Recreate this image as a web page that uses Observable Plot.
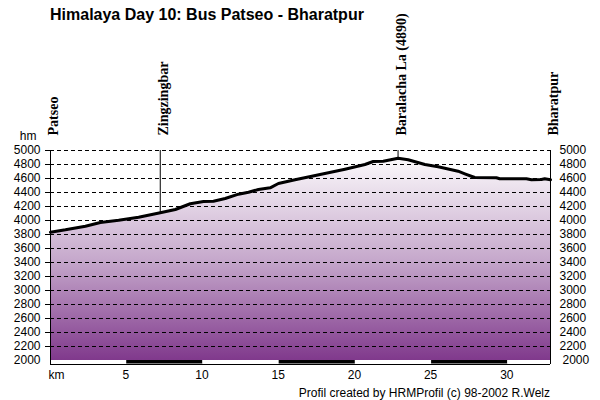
<!DOCTYPE html>
<html>
<head>
<meta charset="utf-8">
<script src="https://cdn.jsdelivr.net/npm/d3@7"></script>
<script src="https://cdn.jsdelivr.net/npm/@observablehq/plot@0.6"></script>
<style>
  html, body { margin: 0; padding: 0; background: #fff; }
  #wrap { position: relative; width: 600px; height: 400px; overflow: hidden; font-family: "Liberation Sans", Arial, sans-serif; }
  #title { position: absolute; left: 50px; top: 6px; font-size: 16px; font-weight: bold; color: #000; white-space: nowrap; }
  #credit { position: absolute; right: 50px; top: 386px; font-size: 12px; color: #000; white-space: nowrap; }
  svg { display: block; }
</style>
</head>
<body>
<div id="wrap">
  <div id="title">Himalaya Day 10: Bus Patseo - Bharatpur</div>
  <div id="credit">Profil created by HRMProfil (c) 98-2002 R.Welz</div>
</div>
<script>
const km = [0,0.98,2.29,3.27,4.47,5.78,7.2,8.19,9.17,10.04,10.69,11.46,12.33,12.99,13.64,14.41,14.95,16.04,17.14,18.23,19.32,20.63,21.17,21.83,22.8,23.46,24.56,25.43,26.74,27.18,27.83,29.25,29.47,31.22,31.55,32.2,32.42,32.8];
const elevation = [3833,3867,3919,3971,4004,4047,4110,4157,4239,4271,4276,4314,4376,4404,4443,4467,4529,4581,4633,4681,4733,4800,4843,4847,4890,4867,4800,4767,4704,4667,4614,4610,4596,4596,4581,4586,4596,4581];
const gridLevels = [5000,4800,4600,4400,4200,4000,3800,3600,3400,3200,3000,2800,2600,2400,2200];
const kmTicks = [5,10,15,20,25,30];
const waypointNames = ["Patseo","Zingzingbar","Baralacha La (4890)","Bharatpur"];
const waypointKm = [0,7.2,22.8,32.8];
const waypointElev = [3833,4110,4890,4581];
const barStart = [0,5,10,15,20,25,30];
const barEnd = [5,10,15,20,25,30,32.8];
const barFill = ["white","black","white","black","white","black","white"];

const profile = km.map((k,i) => ({k, e: elevation[i]}));
const waypoints = waypointNames.map((name,i) => ({name, k: waypointKm[i], e: waypointElev[i]}));
const bars = barStart.map((s,i) => ({s, t: barEnd[i], f: barFill[i]}));
const ns = "http://www.w3.org/2000/svg";

const chart = Plot.plot({
  width: 600, height: 400,
  marginTop: 150, marginBottom: 36, marginLeft: 50, marginRight: 50,
  style: {fontFamily: "Liberation Sans, Arial, sans-serif", fontSize: "12px", background: "white", color: "black"},
  x: {domain: [0, 32.8], axis: null},
  y: {domain: [1943, 5000], axis: null},
  marks: [
    () => {
      const defs = document.createElementNS(ns, "defs");
      defs.innerHTML = `<linearGradient id="elev" x1="0" y1="0" x2="0" y2="1">
        <stop offset="0" stop-color="#fbf9fb"/>
        <stop offset="0.5" stop-color="#c6a9cc"/>
        <stop offset="1" stop-color="#80398c"/></linearGradient>`;
      return defs;
    },
    Plot.areaY(profile, {x: "k", y1: 2000, y2: "e", fill: "url(#elev)"}),
    Plot.ruleY(gridLevels, {stroke: "black", strokeWidth: 1, strokeDasharray: "4,3"}),
    Plot.ruleX(waypoints.slice(1,3), {x: "k", y1: "e", y2: 5000, stroke: "black", strokeWidth: 1}),
    Plot.line(profile, {x: "k", y: "e", stroke: "black", strokeWidth: 3, strokeLinejoin: "round"}),
    Plot.rect(bars, {x1: "s", x2: "t", y1: 1950, y2: 2000, fill: "f"}),
    Plot.ruleX([0, 32.8], {y1: 1943, y2: 5000, stroke: "black", strokeWidth: 1}),
    Plot.ruleY([1943], {stroke: "black", strokeWidth: 1}),
    Plot.axisY({anchor: "left", ticks: gridLevels, tickSize: 5, tickPadding: 5, tickFormat: d => String(d), label: null, fontSize: 12}),
    Plot.axisY({anchor: "right", ticks: gridLevels, tickSize: 0, tickPadding: 9, tickFormat: d => String(d), label: null, fontSize: 12}),
    Plot.text([2000], {x: 0, y: d => d, text: d => String(d), textAnchor: "end", dx: -10, fontSize: 12}),
    Plot.text([2000], {x: 32.8, y: d => d, text: d => String(d), textAnchor: "start", dx: 12, fontSize: 12}),
    Plot.axisX({anchor: "bottom", ticks: kmTicks, tickSize: 0, tickPadding: 6, dx: -1, tickFormat: d => String(d), label: null, fontSize: 12}),
    Plot.text(["km"], {x: 0, y: 1943, text: d => d, textAnchor: "start", dx: -2, dy: 11, fontSize: 12}),
    Plot.text(["hm"], {x: 0, y: 5000, text: d => d, textAnchor: "end", dx: -14, dy: -14, fontSize: 12}),
    Plot.text(waypoints, {x: "k", y: 5000, text: "name", rotate: -90, textAnchor: "start", dx: 3, dy: -15, fontFamily: "Liberation Sans Narrow, Liberation Serif", fontWeight: "bold", fontSize: 14})
  ]
});
document.getElementById("wrap").prepend(chart);
</script>
</body>
</html>
